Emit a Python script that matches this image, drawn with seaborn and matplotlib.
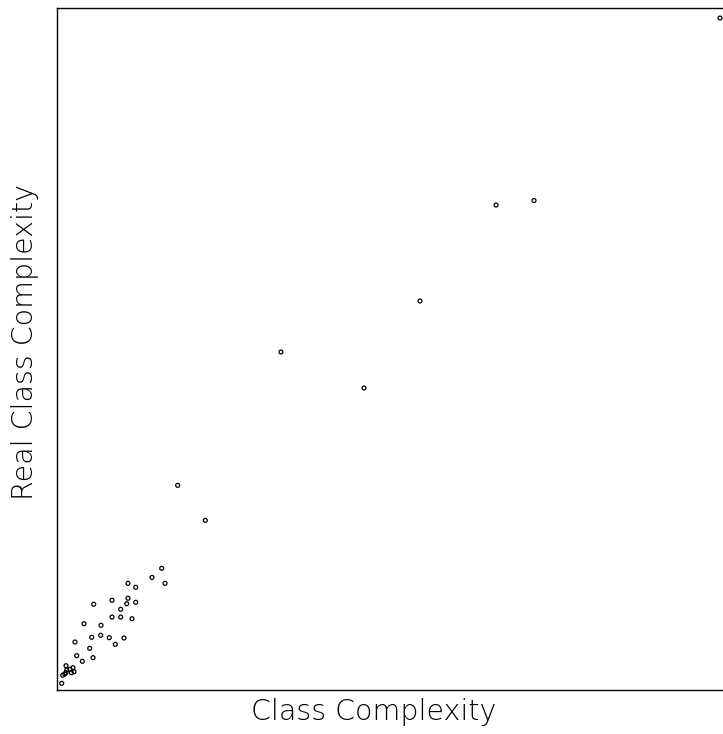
import matplotlib
matplotlib.use("Agg")
import matplotlib.pyplot as plt
import seaborn as sns
import pandas as pd

class_complexity = [15.72, 14.26, 16.22, 10.66, 11.82, 5.51, 8.26, 10.66, 10.47, 11.82,
                    9.56, 8.26, 9.56, 11.26, 4.05, 6.61, 5.21, 6.56, 7.85, 10.06,
                    8.75, 2.70, 4.91, 2.96, 5.41, 3.80, 1.35, 2.40, 1.95, 1.46,
                    2.55, 2.15, 1.35, 1.16, 0.86, 0.71, 18.12, 22.27, 33.63, 46.10,
                    54.50, 65.92, 71.62, 99.55]
real_class_complexity = [17.84, 16.50, 15.64, 15.64, 15.06, 12.57, 13.15, 13.45, 12.65, 12.86,
                         11.83, 10.70, 10.70, 10.45, 9.72, 9.49, 7.73, 8.02, 7.67, 7.62,
                         6.70, 7.04, 6.11, 5.03, 4.74, 4.21, 3.56, 3.27, 3.04, 2.93,
                         2.68, 2.54, 2.54, 2.35, 2.16, 0.98, 30.01, 24.88, 49.56, 44.28,
                         57.04, 71.11, 71.77, 98.53]

df = pd.DataFrame({"Class Complexity": class_complexity,
                   "Real Class Complexity": real_class_complexity})

sns.set_style("white")
plt.rcParams['font.family'] = ['DejaVu Sans']

fig = plt.figure(figsize=(7.23, 7.34), dpi=100)
ax = fig.add_axes([57/723, 44/734, 666/723, 682/734])

sns.scatterplot(data=df, x="Class Complexity", y="Real Class Complexity", ax=ax,
                marker="o", s=8, facecolor="none", edgecolor="black", linewidth=0.9)

ax.set_xlim(0, 100)
ax.set_ylim(0, 100)
ax.set_xticks([])
ax.set_yticks([])
for side in ["left", "bottom", "top"]:
    ax.spines[side].set_visible(True)
    ax.spines[side].set_color("black")
    ax.spines[side].set_linewidth(1.0)
ax.spines["right"].set_visible(False)

ax.set_xlabel("Class Complexity", fontsize=20.5, fontweight="light", color="black")
ax.set_ylabel("Real Class Complexity", fontsize=20.5, fontweight="light", color="black")
ax.xaxis.set_label_coords((374 - 57) / 666, -(712 - 690) / 682, transform=ax.transAxes)
ax.xaxis.label.set_va("center")
ax.yaxis.set_label_coords((25 - 57) / 666, (690 - 342) / 682, transform=ax.transAxes)
ax.yaxis.label.set_va("center")

fig.savefig("out.png", dpi=100)
